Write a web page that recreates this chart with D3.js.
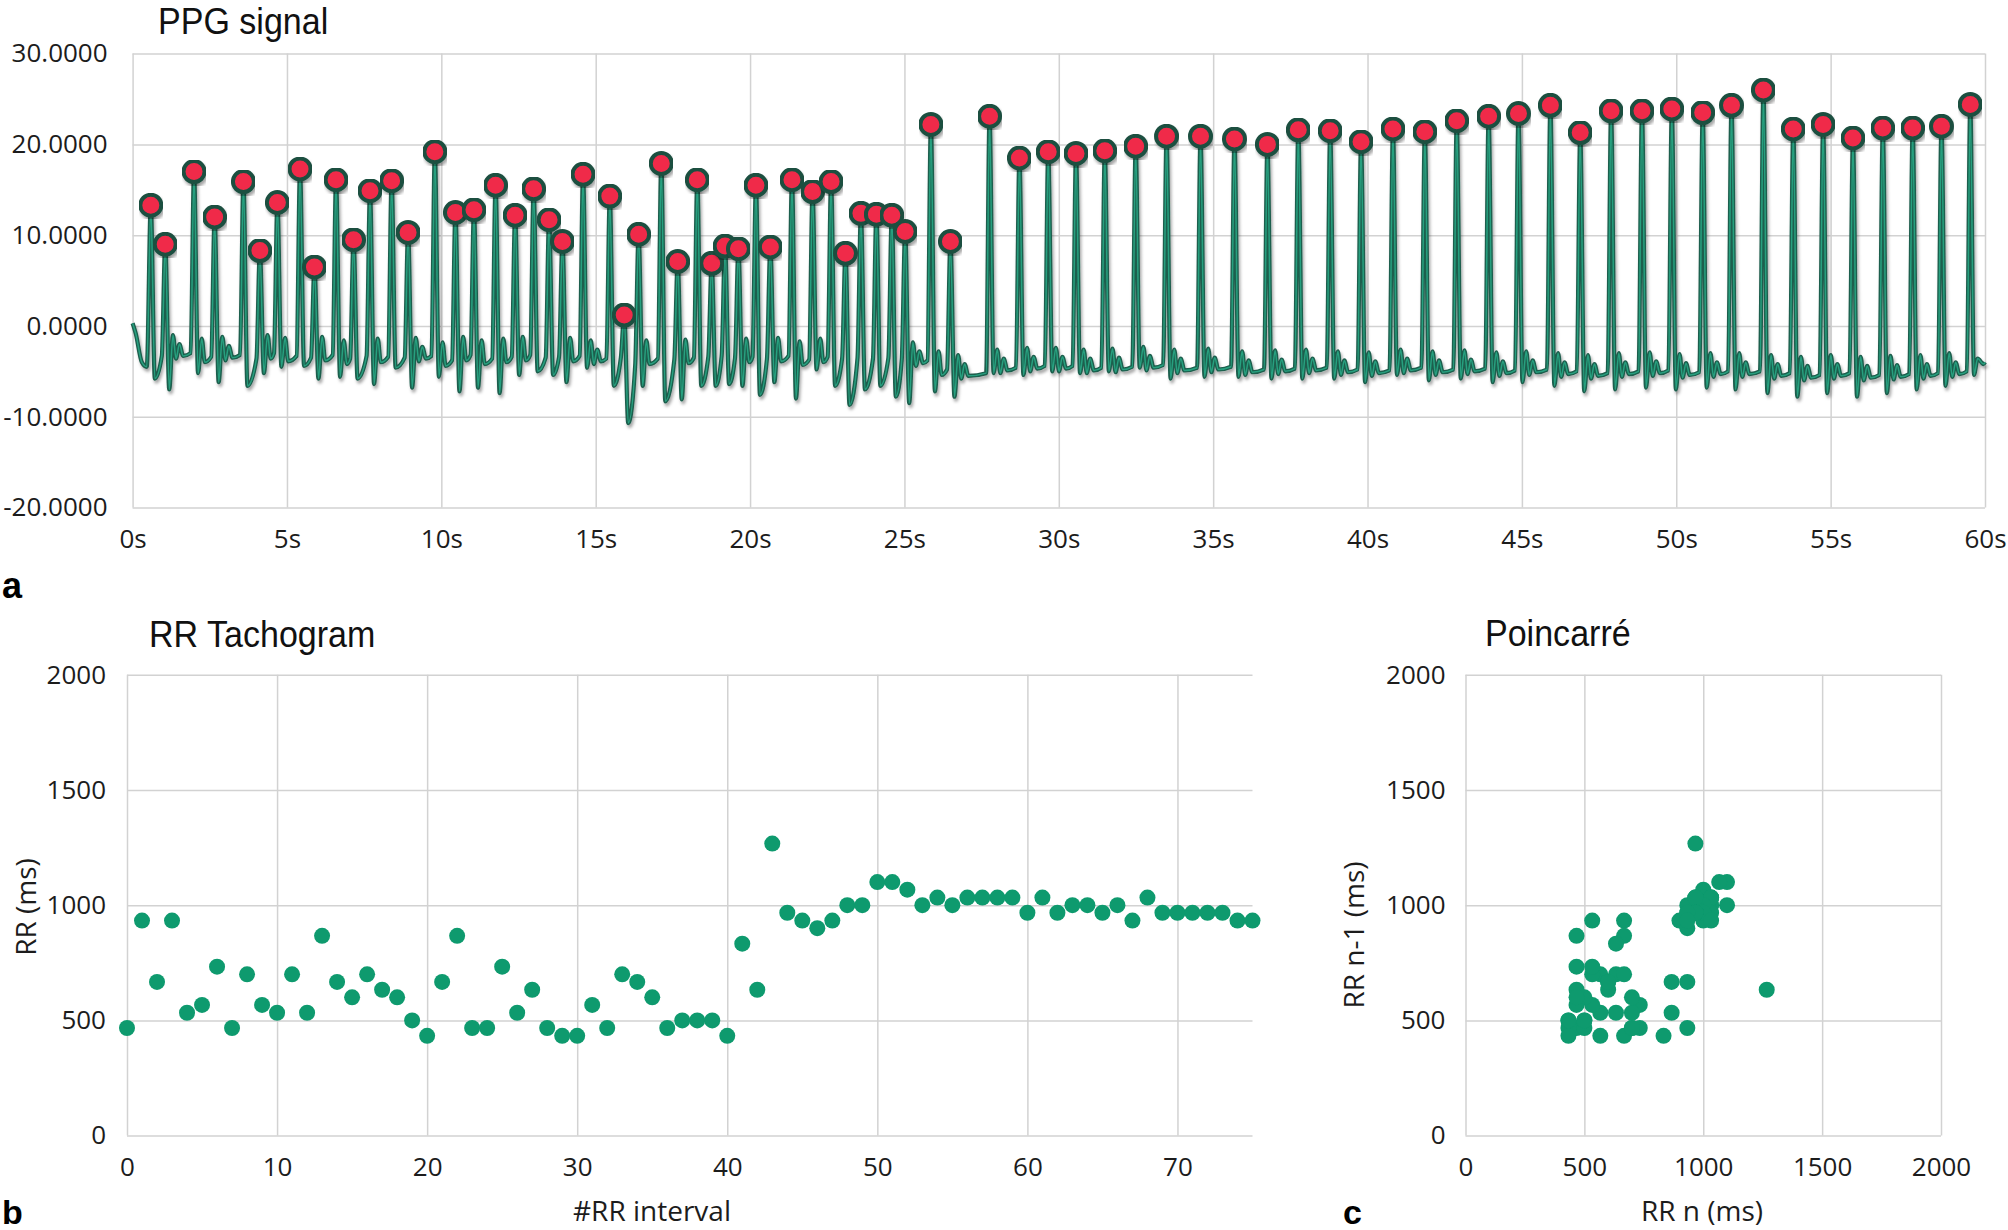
<!DOCTYPE html>
<html><head><meta charset="utf-8">
<script src="https://cdn.jsdelivr.net/npm/d3@7"></script>
<style>
html,body{margin:0;padding:0;background:#fff;}
svg{display:block;}
</style></head><body>
<svg id="chart" width="2008" height="1230"></svg>
<script>
// ---------------- DATA ----------------
// RR intervals (ms), one per beat-to-beat interval (76 intervals, 77 beats)
const rrIntervals = [467,933,667,933,533,567,733,467,700,567,
  533,700,533,867,667,600,700,633,600,500,
  433,667,867,467,467,733,533,633,467,433,
  433,567,467,700,667,600,467,500,500,500,
  433,833,633,1267,967,933,900,933,1000,1000,
  1100,1100,1067,1000,1033,1000,1033,1033,1033,1033,
  967,1033,967,1000,1000,967,1000,933,1033,967,
  967,967,967,967,933,933];
// PPG peak amplitudes (77 detected peaks)
const peakValues = [13.3,9.0,17.0,12.0,15.9,8.3,13.6,17.3,6.5,16.1,
  9.5,14.9,16.0,10.3,19.2,12.5,12.8,15.5,12.2,15.1,
  11.7,9.3,16.7,14.3,1.2,10.1,17.9,7.1,16.1,6.9,
  8.8,8.5,15.5,8.7,16.1,14.8,15.9,8.0,12.4,12.3,
  12.2,10.4,22.2,9.3,23.1,18.5,19.2,19.0,19.3,19.8,
  20.9,20.9,20.6,20.0,21.6,21.5,20.3,21.7,21.4,22.6,
  23.1,23.4,24.3,21.3,23.7,23.7,23.9,23.5,24.3,26.0,
  21.7,22.2,20.7,21.8,21.8,22.0,24.4];
// minimum of the signal right after each peak
const troughValues = [-5.8,-7.0,-5.2,-6.2,-6.6,-5.2,-4.5,-4.4,-5.8,-5.6,
  -5.8,-6.4,-4.6,-6.8,-5.6,-7.2,-6.8,-7.4,-5.4,-5.0,
  -5.4,-6.2,-4.6,-6.6,-10.7,-6.6,-8.3,-8.1,-6.6,-6.6,
  -6.4,-6.6,-7.6,-6.2,-8.0,-4.8,-6.6,-8.7,-7.0,-6.6,
  -7.8,-8.5,-7.2,-7.8,-5.2,-5.4,-5.0,-5.2,-5.0,-4.6,
  -5.8,-5.6,-5.6,-5.8,-5.8,-5.8,-6.2,-5.4,-6.0,-5.8,
  -6.2,-6.2,-6.6,-7.2,-7.0,-6.8,-7.0,-6.8,-7.0,-7.4,
  -7.8,-7.4,-7.8,-7.4,-7.0,-6.6,-5.4];
// resting level of the signal between beats
const baseValues = [-3.3,-3.0,-3.4,-3.2,-3.6,-3.0,-3.3,-3.5,-3.2,-3.6,
  -3.3,-3.4,-3.5,-3.3,-3.8,-3.2,-3.6,-3.4,-3.2,-3.5,
  -3.4,-3.3,-3.6,-3.5,-4.2,-3.6,-3.7,-3.5,-3.4,-3.3,
  -3.5,-3.4,-3.6,-3.3,-3.7,-3.4,-3.6,-3.5,-3.6,-3.5,
  -3.7,-3.8,-4.8,-5.2,-4.6,-4.4,-4.4,-4.6,-4.5,-4.3,
  -4.6,-4.5,-4.8,-4.7,-4.6,-4.8,-4.9,-4.6,-4.8,-4.7,
  -4.9,-4.8,-5.0,-5.2,-5.0,-4.9,-5.1,-5.0,-5.0,-5.2,
  -5.4,-5.2,-5.4,-5.3,-5.2,-5.0,-4.4];
const firstPeakTime = 0.59;      // s
const signalStart = [[0,0.3],[0.1,-0.8],[0.3,-4.0],[0.46,-4.5]];
const signalEnd = [[59.95,-4.2],[60,-4.0]];

const ppgXTicks = [0,5,10,15,20,25,30,35,40,45,50,55,60];
const ppgYTicks = [-20,-10,0,10,20,30];
const rrXTicks = [0,10,20,30,40,50,60,70];
const rrYTicks = [0,500,1000,1500,2000];
const poincareTicks = [0,500,1000,1500,2000];

// ---------------- DRAW ----------------
const svg = d3.select('#chart');
const tickFont = '"Open Sans", "Noto Sans", sans-serif';
const titleFont = '"Liberation Sans", Arial, sans-serif';
const gridCol = '#d2d2d2';
const txtCol = '#1c1c1c';

const defs = svg.append('defs');
const f = defs.append('filter').attr('id','shadow').attr('x','-5%').attr('y','-5%').attr('width','110%').attr('height','120%');
f.append('feDropShadow').attr('dx',1.5).attr('dy',3).attr('stdDeviation',1.6).attr('flood-color','#000').attr('flood-opacity',0.35);

function styleAxis(g){
  g.select('.domain').remove();
  g.selectAll('.tick line').attr('stroke',gridCol).attr('stroke-width',1.5);
  g.selectAll('.tick text').attr('fill',txtCol).style('font-family',tickFont).style('font-size','26px');
}

// ===== Panel a: PPG signal =====
const ax0 = 132.6, ax1 = 1985, ay0 = 53.6, ay1 = 507.5;
const xa = d3.scaleLinear().domain([0,60]).range([ax0,ax1]);
const ya = d3.scaleLinear().domain([-20,30]).range([ay1,ay0]);

svg.append('g').attr('transform',`translate(${ax0},0)`)
  .call(d3.axisLeft(ya).tickValues(ppgYTicks).tickSize(-(ax1-ax0)).tickPadding(25).tickFormat(d=>d.toFixed(4)))
  .call(styleAxis);
svg.append('g').attr('transform',`translate(0,${ay1})`)
  .call(d3.axisBottom(xa).tickValues(ppgXTicks).tickSize(-(ay1-ay0)).tickPadding(22).tickFormat(d=>d+'s'))
  .call(styleAxis);

// beat times from first peak + cumulative RR intervals
const peakTimes = [firstPeakTime];
rrIntervals.forEach((r,i)=>peakTimes.push(peakTimes[i]+r/1000));

const sig = signalStart.slice();
peakTimes.forEach((t,k)=>{
  const P = peakValues[k], T = troughValues[k], B = baseValues[k];
  sig.push([t,P]);
  if(k < peakTimes.length-1){
    const tn = peakTimes[k+1], d = tn - t;
    sig.push([t+0.13,T]);
    if(d >= 0.55){ sig.push([t+0.25,B+2.0]); sig.push([t+0.35,B-0.6]); }
    if(d >= 0.8){ sig.push([t+0.46,B+1.0]); sig.push([t+0.58,B-0.3]); }
    sig.push([tn-0.11,B]);
  } else {
    sig.push([t+0.12,T]);
    sig.push([t+0.24,B+0.8]);
  }
});
signalEnd.forEach(p=>sig.push(p));

const line = d3.line().x(d=>xa(d[0])).y(d=>ya(d[1])).curve(d3.curveMonotoneX);
const lg = svg.append('g');
lg.append('path').datum(sig).attr('d',line).attr('fill','none').attr('stroke','#1f5e4d').attr('stroke-width',4.2).attr('stroke-linejoin','round').attr('filter','url(#shadow)');
lg.append('path').datum(sig).attr('d',line).attr('fill','none').attr('stroke','#27a07f').attr('stroke-width',1.5).attr('stroke-linejoin','round');

svg.append('g').selectAll('circle').data(peakTimes.map((t,i)=>[t,peakValues[i]])).join('circle')
  .attr('cx',d=>xa(d[0])).attr('cy',d=>ya(d[1])).attr('r',10.5)
  .attr('fill','#f02c4a').attr('stroke','#1c4f40').attr('stroke-width',4)
  .attr('filter','url(#shadow)');

svg.append('text').attr('x',158).attr('y',34).attr('transform','translate(158,0) scale(0.92,1) translate(-158,0)')
  .style('font-family',titleFont).style('font-size','37px').attr('fill','#111').text('PPG signal');
svg.append('text').attr('x',2).attr('y',598).style('font-family',titleFont).style('font-weight','bold').style('font-size','36px').attr('fill','#000').text('a');

// ===== Panel b: RR Tachogram =====
const bx0 = 127, bx1 = 1252.5, by0 = 674.7, by1 = 1135.6;
const xb = d3.scaleLinear().domain([0,75]).range([bx0,bx1]);
const yb = d3.scaleLinear().domain([0,2000]).range([by1,by0]);
svg.append('g').attr('transform',`translate(${bx0},0)`)
  .call(d3.axisLeft(yb).tickValues(rrYTicks).tickSize(-(bx1-bx0)).tickPadding(21).tickFormat(d3.format('d')))
  .call(styleAxis);
svg.append('g').attr('transform',`translate(0,${by1})`)
  .call(d3.axisBottom(xb).tickValues(rrXTicks).tickSize(-(by1-by0)).tickPadding(22).tickFormat(d3.format('d')))
  .call(styleAxis);
svg.append('g').selectAll('circle').data(rrIntervals).join('circle')
  .attr('cx',(d,i)=>xb(i)).attr('cy',d=>yb(d)).attr('r',8).attr('fill','#0e9a6e');
svg.append('text').attr('x',149).attr('y',647).attr('transform','translate(149,0) scale(0.92,1) translate(-149,0)')
  .style('font-family',titleFont).style('font-size','37px').attr('fill','#111').text('RR Tachogram');
svg.append('text').attr('transform','translate(36,907) rotate(-90)').attr('text-anchor','middle')
  .style('font-family',tickFont).style('font-size','28px').attr('fill',txtCol).text('RR (ms)');
svg.append('text').attr('x',652).attr('y',1221).attr('text-anchor','middle')
  .style('font-family',tickFont).style('font-size','28px').attr('fill',txtCol).text('#RR interval');
svg.append('text').attr('x',2).attr('y',1224).style('font-family',titleFont).style('font-weight','bold').style('font-size','34px').attr('fill','#000').text('b');

// ===== Panel c: Poincaré =====
const cx0 = 1465.5, cx1 = 1941, cy0 = 674.7, cy1 = 1135.6;
const xc = d3.scaleLinear().domain([0,2000]).range([cx0,cx1]);
const yc = d3.scaleLinear().domain([0,2000]).range([cy1,cy0]);
svg.append('g').attr('transform',`translate(${cx0},0)`)
  .call(d3.axisLeft(yc).tickValues(poincareTicks).tickSize(-(cx1-cx0)).tickPadding(20).tickFormat(d3.format('d')))
  .call(styleAxis);
svg.append('g').attr('transform',`translate(0,${cy1})`)
  .call(d3.axisBottom(xc).tickValues(poincareTicks).tickSize(-(cy1-cy0)).tickPadding(22).tickFormat(d3.format('d')))
  .call(styleAxis);
const pairs = rrIntervals.slice(1).map((r,i)=>[r, rrIntervals[i]]); // [RR n, RR n-1]
svg.append('g').selectAll('circle').data(pairs).join('circle')
  .attr('cx',d=>xc(d[0])).attr('cy',d=>yc(d[1])).attr('r',8).attr('fill','#0e9a6e');
svg.append('text').attr('x',1485).attr('y',646).attr('transform','translate(1485,0) scale(0.92,1) translate(-1485,0)')
  .style('font-family',titleFont).style('font-size','37px').attr('fill','#111').text('Poincarré');
svg.append('text').attr('transform','translate(1364,935) rotate(-90)').attr('text-anchor','middle')
  .style('font-family',tickFont).style('font-size','28px').attr('fill',txtCol).text('RR n-1 (ms)');
svg.append('text').attr('x',1702).attr('y',1221).attr('text-anchor','middle')
  .style('font-family',tickFont).style('font-size','28px').attr('fill',txtCol).text('RR n (ms)');
svg.append('text').attr('x',1343).attr('y',1224).style('font-family',titleFont).style('font-weight','bold').style('font-size','34px').attr('fill','#000').text('c');
</script>
</body></html>
